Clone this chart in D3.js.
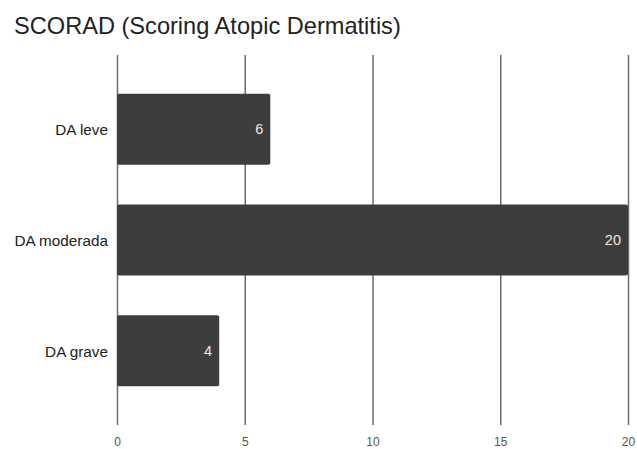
<!DOCTYPE html>
<html><head><meta charset="utf-8">
<script src="https://cdn.jsdelivr.net/npm/d3@7"></script>
<style>body{margin:0;background:#fff;}svg{display:block;font-family:"Liberation Sans",Arial,sans-serif;}</style>
</head><body>
<script>
const categories = ["DA leve", "DA moderada", "DA grave"];
const values = [6, 20, 4];
const tickValues = [0, 5, 10, 15, 20];
const title = "SCORAD (Scoring Atopic Dermatitis)";

const W = 637, H = 449;
const FONT = "'Liberation Sans', Arial, sans-serif";
const svg = d3.select("body").append("svg").attr("width", W).attr("height", H);
svg.append("rect").attr("width", W).attr("height", H).attr("fill", "#fff");

const x = d3.scaleLinear().domain([0, 20]).range([117, 628]);
const y = d3.scaleBand().domain(categories).range([55, 425]).paddingInner(0.36).paddingOuter(0.35);

svg.append("text").attr("x", 14).attr("y", 34).attr("font-size", 23.6).attr("font-family", FONT)
  .attr("fill", "#222").text(title);

const xAxis = d3.axisBottom(x).tickValues(tickValues).tickSize(-(425 - 55)).tickPadding(12);
const gx = svg.append("g").attr("transform", "translate(0,425)").call(xAxis);
gx.attr("font-family", FONT);
gx.select(".domain").remove();
gx.selectAll(".tick line").attr("stroke", "#6b6b6b").attr("stroke-width", 1.5);
gx.selectAll(".tick text").attr("font-size", 12).attr("fill", "#555");

svg.selectAll("rect.bar").data(values).enter().append("rect").attr("class", "bar")
  .attr("x", x(0)).attr("y", (d, i) => y(categories[i]))
  .attr("width", d => x(d) - x(0)).attr("height", y.bandwidth())
  .attr("rx", 2).attr("fill", "#3d3d3d");

svg.selectAll("text.val").data(values).enter().append("text").attr("class", "val")
  .attr("x", d => x(d) - 7).attr("y", (d, i) => y(categories[i]) + y.bandwidth() / 2 + 5)
  .attr("text-anchor", "end").attr("font-size", 14.5).attr("font-family", FONT)
  .attr("fill", "#eaeaea").text(d => d);

svg.selectAll("text.cat").data(categories).enter().append("text").attr("class", "cat")
  .attr("x", 108).attr("y", d => y(d) + y.bandwidth() / 2 + 6)
  .attr("text-anchor", "end").attr("font-size", 15.3).attr("font-family", FONT)
  .attr("fill", "#222").text(d => d);
</script>
</body></html>
